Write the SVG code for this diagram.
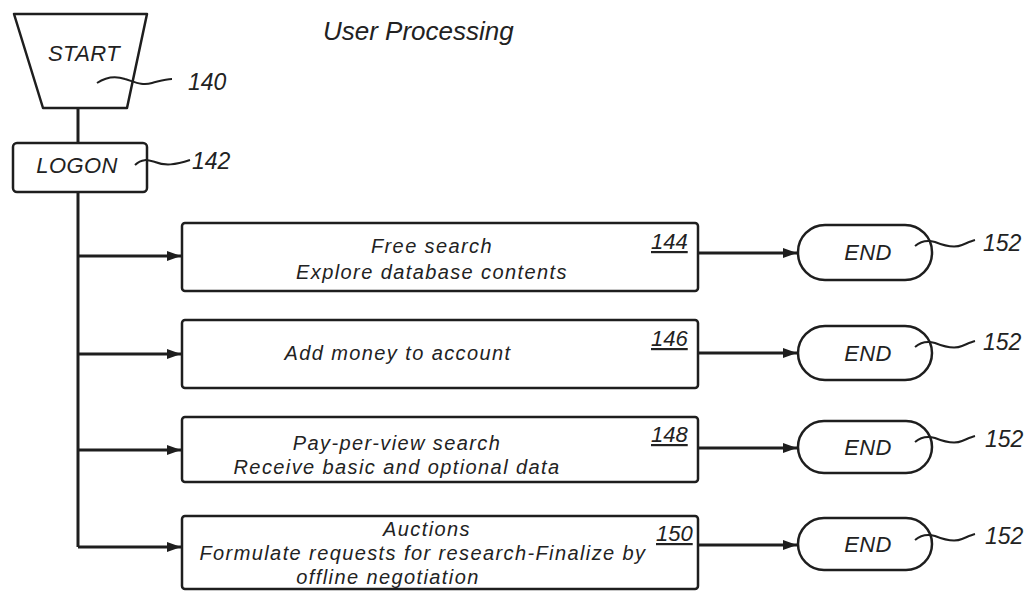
<svg xmlns="http://www.w3.org/2000/svg" width="1031" height="592" viewBox="0 0 1031 592">
<defs>
<style>
.shape{fill:#fff;stroke:#1e1e1e;stroke-width:2.5;stroke-linejoin:round}
.conn{fill:none;stroke:#1e1e1e;stroke-width:3}
.lead{fill:none;stroke:#1e1e1e;stroke-width:2}
text{font-family:"Liberation Sans",Arial,sans-serif;font-style:italic;fill:#222}
.t{font-size:20px;letter-spacing:1.4px}
.s{font-size:22px;letter-spacing:0.4px}
.ref{font-size:23px}
.num{font-size:22px;text-decoration:underline}
</style>
<marker id="ah" viewBox="0 0 14 10" refX="14" refY="5" markerWidth="14" markerHeight="10" markerUnits="userSpaceOnUse" orient="auto">
<path d="M0,0 L14,5 L0,10 Z" fill="#1e1e1e"/>
</marker>
</defs>
<rect width="1031" height="592" fill="#fff"/>
<text x="323" y="40" style="font-size:26px">User Processing</text>

<g id="connectors">
<path class="conn" d="M78,108 V143"/>
<path class="conn" d="M78,192 V547"/>
<path class="conn" d="M78,256 H181" marker-end="url(#ah)"/>
<path class="conn" d="M78,354 H181" marker-end="url(#ah)"/>
<path class="conn" d="M78,450 H181" marker-end="url(#ah)"/>
<path class="conn" d="M78,547 H181" marker-end="url(#ah)"/>
<path class="conn" d="M698,253 H797" marker-end="url(#ah)"/>
<path class="conn" d="M698,353 H797" marker-end="url(#ah)"/>
<path class="conn" d="M698,448 H797" marker-end="url(#ah)"/>
<path class="conn" d="M698,545 H797" marker-end="url(#ah)"/>
</g>

<g id="start">
<path class="shape" d="M14,14 H147 L127,108 H43 Z"/>
<text class="s" x="84" y="61" text-anchor="middle">START</text>
<path class="lead" d="M97,83 C106,77 116,76 125,79 C135,82 142,86 152,83 C160,81 165,79 172,79"/>
<text class="ref" x="188" y="90">140</text>
</g>

<g id="logon">
<rect class="shape" x="13" y="143" width="134" height="49" rx="4"/>
<text class="s" x="77" y="173" text-anchor="middle">LOGON</text>
<path class="lead" d="M135,165 C142,158 148,160 155,162 C165,166 175,165 190,160"/>
<text class="ref" x="192" y="169">142</text>
</g>

<g id="box144">
<rect class="shape" x="182" y="223" width="516" height="68" rx="3"/>
<text class="t" x="432" y="253" text-anchor="middle">Free search</text>
<text class="t" x="432" y="279" text-anchor="middle">Explore database contents</text>
<text class="num" x="651" y="249">144</text>
</g>

<g id="box146">
<rect class="shape" x="182" y="320" width="516" height="68" rx="3"/>
<text class="t" x="398" y="360" text-anchor="middle">Add money to account</text>
<text class="num" x="651" y="346">146</text>
</g>

<g id="box148">
<rect class="shape" x="182" y="417" width="516" height="65" rx="3"/>
<text class="t" x="397" y="450" text-anchor="middle">Pay-per-view search</text>
<text class="t" x="397" y="474" text-anchor="middle">Receive basic and optional data</text>
<text class="num" x="651" y="442">148</text>
</g>

<g id="box150">
<rect class="shape" x="182" y="516" width="516" height="73" rx="3"/>
<text class="t" x="427" y="536" text-anchor="middle">Auctions</text>
<text class="t" x="423" y="560" text-anchor="middle">Formulate requests for research-Finalize by</text>
<text class="t" x="388" y="584" text-anchor="middle">offline negotiation</text>
<text class="num" x="656" y="541">150</text>
</g>

<g id="end1">
<rect class="shape" x="798" y="225" width="134" height="55" rx="27"/>
<text class="s" x="868" y="260" text-anchor="middle">END</text>
<path class="lead" d="M915,246 C922,240 928,240 935,242 C945,246 955,248 962,245 C967,243 971,241 975,240"/>
<text class="ref" x="983" y="251">152</text>
</g>

<g id="end2">
<rect class="shape" x="798" y="326" width="134" height="54" rx="27"/>
<text class="s" x="868" y="361" text-anchor="middle">END</text>
<path class="lead" d="M915,347 C922,341 928,341 935,343 C945,347 955,349 962,346 C967,344 971,342 975,341"/>
<text class="ref" x="983" y="350">152</text>
</g>

<g id="end3">
<rect class="shape" x="798" y="421" width="134" height="52" rx="26"/>
<text class="s" x="868" y="455" text-anchor="middle">END</text>
<path class="lead" d="M915,442 C922,436 928,436 935,438 C945,442 955,444 962,441 C967,439 971,437 975,436"/>
<text class="ref" x="985" y="447">152</text>
</g>

<g id="end4">
<rect class="shape" x="798" y="518" width="134" height="52" rx="26"/>
<text class="s" x="868" y="552" text-anchor="middle">END</text>
<path class="lead" d="M915,540 C922,534 928,534 935,536 C945,540 955,542 962,539 C967,537 971,535 975,534"/>
<text class="ref" x="985" y="544">152</text>
</g>
</svg>
